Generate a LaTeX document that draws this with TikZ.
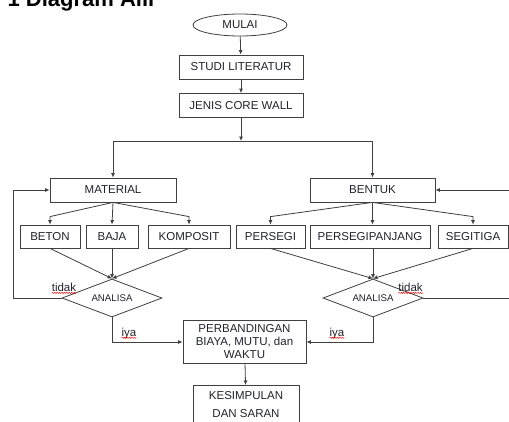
\documentclass[tikz,border=0pt]{standalone}
\usepackage{fontspec}
\setmainfont{Liberation Sans}
\usepackage{xcolor}
\usetikzlibrary{arrows.meta,shapes.geometric,decorations.pathmorphing}

\definecolor{garis}{HTML}{404040}
\definecolor{teks}{HTML}{22222E}

\tikzset{
  kotak/.style={draw=garis, line width=0.8pt, text=teks, inner sep=0pt,
    minimum height=24, font=\fontsize{11.5}{13}\selectfont},
  panah/.style={draw=garis, line width=0.8pt, -{Latex[length=4.5pt,width=4pt]}},
  garisbiasa/.style={draw=garis, line width=0.8pt},
  ket/.style={text=teks, inner sep=0pt, font=\fontsize{11.5}{13}\selectfont},
  salah/.style={red, line width=0.45pt, decorate,
    decoration={snake, amplitude=0.6pt, segment length=2.4pt}}
}

\begin{document}
\begin{tikzpicture}[x=1pt, y=-1pt]
\useasboundingbox (0,0) rectangle (509,421);
\clip (0,0) rectangle (509,421);
\fill[white] (0,0) rectangle (509,421);
% judul (terpotong di atas)
\node[anchor=base east, inner sep=0pt, font=\bfseries\fontsize{22}{24}\selectfont] (judul) at (157,6.5) {1 Diagram Alir};
% alur utama
\node[ellipse, draw=garis, line width=0.8pt, text=teks, inner sep=0pt, minimum width=94, minimum height=22,
  font=\fontsize{11.5}{13}\selectfont] (mulai) at (240,25) {MULAI};
\node[kotak, minimum width=124] (studi) at (241,67) {STUDI LITERATUR};
\node[kotak, minimum width=124] (jenis) at (241,105.5) {JENIS CORE WALL};
\draw[panah] (mulai) -- (studi);
\draw[panah] (studi) -- (jenis);
\coordinate (cabang) at (241,141);
\coordinate (cabangkiri) at (113,141);
\coordinate (cabangkanan) at (372.5,141);
\draw[panah] (jenis) -- (cabang);
\draw[garisbiasa] (cabangkiri) -- (cabangkanan);
% material dan bentuk
\node[kotak, minimum width=126] (material) at (113,190) {MATERIAL};
\node[kotak, minimum width=125] (bentuk) at (372.5,190) {BENTUK};
\draw[panah] (cabangkiri) -- (material);
\draw[panah] (cabangkanan) -- (bentuk);
\foreach \n/\x/\w/\t in {beton/50/60/BETON, baja/112/52/BAJA, komposit/189/82/KOMPOSIT,
    persegi/270.5/69/PERSEGI, persegipanjang/370/120/PERSEGIPANJANG, segitiga/473/70/SEGITIGA} {
  \node[kotak, minimum width=\w, minimum height=23] (\n) at (\x,236.5) {\t};
}
\foreach \n in {beton,komposit}
  \draw[panah] (material.south) -- ([yshift=8]\n.north) -- (\n.north);
\draw[panah] (material.south) -- (baja.north);
\foreach \n in {persegi,segitiga}
  \draw[panah] (bentuk.south) -- ([yshift=8]\n.north) -- (\n.north);
\draw[panah] (bentuk.south) -- (bentuk.south |- persegipanjang.north);
% analisa
\node[diamond, draw=garis, line width=0.8pt, text=teks, inner sep=0pt, aspect=2.6,
  minimum width=100, minimum height=38, font=\fontsize{9.7}{11}\selectfont] (analisaA) at (112,298) {ANALISA};
\node[diamond, draw=garis, line width=0.8pt, text=teks, inner sep=0pt, aspect=2.6,
  minimum width=100, minimum height=38, font=\fontsize{9.7}{11}\selectfont] (analisaB) at (373,298) {ANALISA};
\foreach \n in {beton,baja,komposit}
  \draw[panah] (\n.south) -- (analisaA.north);
\foreach \n in {persegi,segitiga}
  \draw[panah] (\n.south) -- (analisaB.north);
\draw[panah] (analisaB.north |- persegipanjang.south) -- (analisaB.north);
% umpan balik
\draw[panah] (analisaA.west) -- ++(-48,0) |- (material.west);
\draw[panah] (analisaB.east) -- ++(95,0) |- (bentuk.east);
\node[ket] (tidakA) at (64,287) {tidak};
\node[ket] (tidakB) at (410.5,287) {tidak};
% perbandingan
\node[kotak, minimum width=123, minimum height=43, align=center] (banding) at (244.5,342)
  {PERBANDINGAN\\BIAYA, MUTU, dan\\WAKTU};
\draw[panah] (analisaA.south) |- (banding.west);
\draw[panah] (analisaB.south) |- (banding.east);
\node[ket, anchor=base] (iyaA) at (129,336) {iya};
\node[ket, anchor=base] (iyaB) at (337,336) {iya};
\foreach \n in {tidakA,tidakB,iyaA,iyaB}
  \draw[salah] ([yshift=-1.8]\n.base west) -- ([yshift=-1.8]\n.base east);
% kesimpulan
\node[kotak, anchor=north, minimum width=106, inner ysep=6, align=center,
  font=\fontsize{11.5}{18}\selectfont] (simpul) at (246,385) {KESIMPULAN\\DAN SARAN};
\draw[panah] (banding) -- (simpul);
\end{tikzpicture}
\end{document}
